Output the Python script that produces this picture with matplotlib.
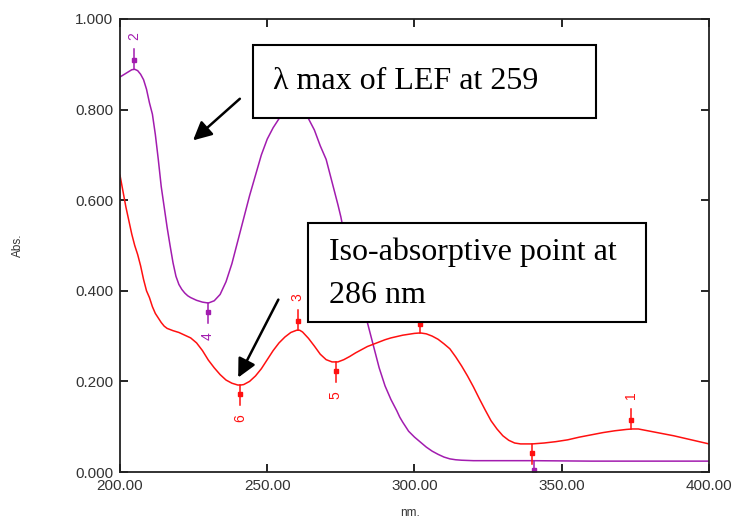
import numpy as np
import matplotlib
matplotlib.use("Agg")
import matplotlib.pyplot as plt
from matplotlib.patches import Rectangle

# LEF spectrum (purple)
lef_nm = [200, 202, 204, 205, 206, 207, 208, 209, 210, 211, 212, 213, 214, 215,
          216, 217, 218, 219, 220, 221, 222, 223, 224, 226, 228, 230, 232, 234,
          236, 238, 240, 242, 244, 246, 248, 250, 252, 254, 256, 258, 260, 262,
          264, 266, 268, 270, 272, 274, 275, 276, 278, 280, 282, 284, 286, 288,
          290, 292, 294, 295, 296, 298, 300, 302, 304, 306, 308, 310, 312, 314,
          316, 320, 340, 360, 380, 400]
lef_abs = [0.872, 0.880, 0.888, 0.889, 0.886, 0.878, 0.866, 0.845, 0.815, 0.790,
           0.745, 0.690, 0.630, 0.585, 0.540, 0.500, 0.462, 0.432, 0.414, 0.403,
           0.395, 0.389, 0.385, 0.379, 0.375, 0.373, 0.378, 0.392, 0.420, 0.460,
           0.510, 0.560, 0.610, 0.655, 0.700, 0.735, 0.760, 0.780, 0.793, 0.800,
           0.800, 0.795, 0.780, 0.755, 0.720, 0.690, 0.640, 0.590, 0.563, 0.530,
           0.470, 0.410, 0.360, 0.330, 0.280, 0.230, 0.190, 0.160, 0.135, 0.121,
           0.110, 0.090, 0.077, 0.066, 0.055, 0.046, 0.039, 0.033, 0.029, 0.027,
           0.026, 0.025, 0.025, 0.024, 0.024, 0.024]

# second spectrum (red)
red_nm = [200, 201, 202, 203, 204, 205, 206, 207, 208, 209, 210, 211, 212, 213,
          214, 215, 216, 218, 220, 222, 224, 226, 228, 230, 232, 234, 236, 238,
          240, 241, 242, 244, 246, 248, 250, 252, 254, 256, 258, 260, 261, 262,
          264, 266, 268, 270, 272, 274, 276, 278, 280, 282, 284, 286, 288, 290,
          292, 294, 296, 298, 300, 302, 304, 306, 308, 310, 312, 314, 316, 318,
          320, 322, 324, 326, 328, 330, 332, 334, 336, 338, 340, 344, 348, 352,
          356, 360, 364, 368, 372, 374, 376, 380, 384, 388, 392, 396, 400]
red_abs = [0.655, 0.620, 0.585, 0.555, 0.525, 0.500, 0.480, 0.455, 0.425, 0.400,
           0.385, 0.365, 0.350, 0.340, 0.330, 0.322, 0.317, 0.312, 0.308, 0.302,
           0.296, 0.285, 0.268, 0.247, 0.230, 0.215, 0.203, 0.196, 0.192, 0.192,
           0.193, 0.200, 0.212, 0.228, 0.248, 0.268, 0.285, 0.298, 0.308, 0.313,
           0.313, 0.309, 0.295, 0.278, 0.260, 0.248, 0.243, 0.243, 0.248, 0.255,
           0.263, 0.270, 0.277, 0.282, 0.287, 0.292, 0.296, 0.299, 0.302, 0.304,
           0.306, 0.307, 0.305, 0.300, 0.293, 0.283, 0.272, 0.254, 0.234, 0.212,
           0.188, 0.162, 0.137, 0.113, 0.095, 0.080, 0.070, 0.064, 0.062, 0.062,
           0.062, 0.064, 0.067, 0.071, 0.077, 0.082, 0.087, 0.091, 0.094, 0.095,
           0.095, 0.090, 0.085, 0.080, 0.074, 0.068, 0.062]

# peak picks: label, wavelength, absorbance, direction (+1 peak / -1 valley), series
pk_lbl = ['2', '4', '', '3', '5', '6', '', '1', '']
pk_nm = [204.7, 229.8, 340.5, 260.3, 273.2, 240.7, 301.7, 373.6, 340.0]
pk_abs = [0.889, 0.373, 0.025, 0.313, 0.243, 0.192, 0.307, 0.095, 0.062]
pk_dir = [1, -1, -1, 1, -1, -1, 1, 1, -1]
pk_ser = ['lef', 'lef', 'lef', 'red', 'red', 'red', 'red', 'red', 'red']

PURPLE = '#a21caf'
RED = '#ff1010'
TXT = '#333333'

fig = plt.figure(figsize=(7.32, 5.2), dpi=100)
ax = fig.add_axes([120/732, 1-472/520, 589/732, 453/520])

ax.plot(lef_nm, lef_abs, color=PURPLE, lw=1.1, zorder=2)
ax.plot(red_nm, red_abs, color=RED, lw=1.1, zorder=2)

for lb, x, y, d, s in zip(pk_lbl, pk_nm, pk_abs, pk_dir, pk_ser):
    c = PURPLE if s == 'lef' else RED
    ax.plot([x, x], [y, y + d*0.044], color=c, lw=1.1, zorder=2)
    ax.plot(x, y + d*0.02, 's', color=c, ms=3, zorder=2)
    if lb:
        ax.text(x, y + d*0.074, lb, color=c, fontsize=10, rotation=90,
                ha='center', va='center', family='Liberation Sans')

ax.set_xlim(200, 400)
ax.set_ylim(0, 1.0)
ax.set_xticks([200, 250, 300, 350, 400])
ax.set_yticks([0, 0.2, 0.4, 0.6, 0.8, 1.0])
ax.xaxis.set_major_formatter(plt.FormatStrFormatter('%.2f'))
ax.yaxis.set_major_formatter(plt.FormatStrFormatter('%.3f'))
ax.tick_params(direction='in', length=6, width=1.2, top=True, right=True,
               labelsize=11, labelcolor=TXT, pad=5)
for lab in ax.get_xticklabels() + ax.get_yticklabels():
    lab.set_family('Liberation Sans')
for sp in ax.spines.values():
    sp.set_linewidth(1.3)
    sp.set_color('#222222')

fig.text(18/732, 1-245/520, 'Abs.', rotation=90, fontsize=8.5, color=TXT,
         ha='center', va='center', family='Liberation Sans')
fig.text(410/732, 1-513/520, 'nm.', fontsize=8.5, color=TXT,
         ha='center', va='center', family='Liberation Sans')

# annotation boxes
ax.add_patch(Rectangle((245.1, 0.781), 361.7-245.1, 0.943-0.781, facecolor='white',
                       edgecolor='black', lw=1.5, zorder=5))
ax.text(252.0, 0.862, 'λ max of LEF at 259', fontsize=23, family='Liberation Serif',
        va='center', ha='left', zorder=6)
ax.add_patch(Rectangle((263.7, 0.331), 378.6-263.7, 0.550-0.331, facecolor='white',
                       edgecolor='black', lw=1.5, zorder=5))
ax.text(271.0, 0.484, 'Iso-absorptive point at', fontsize=23, family='Liberation Serif',
        va='center', ha='left', zorder=6)
ax.text(271.0, 0.390, '286 nm', fontsize=23, family='Liberation Serif',
        va='center', ha='left', zorder=6)

# arrows
ax.annotate('', xy=(224.1, 0.728), xytext=(241.4, 0.828),
            arrowprops=dict(arrowstyle='-|>', color='black', lw=1.8,
                            mutation_scale=28), zorder=6)
ax.annotate('', xy=(239.7, 0.203), xytext=(254.2, 0.386),
            arrowprops=dict(arrowstyle='-|>', color='black', lw=1.8,
                            mutation_scale=28), zorder=6)

plt.savefig('out.png', dpi=100)
